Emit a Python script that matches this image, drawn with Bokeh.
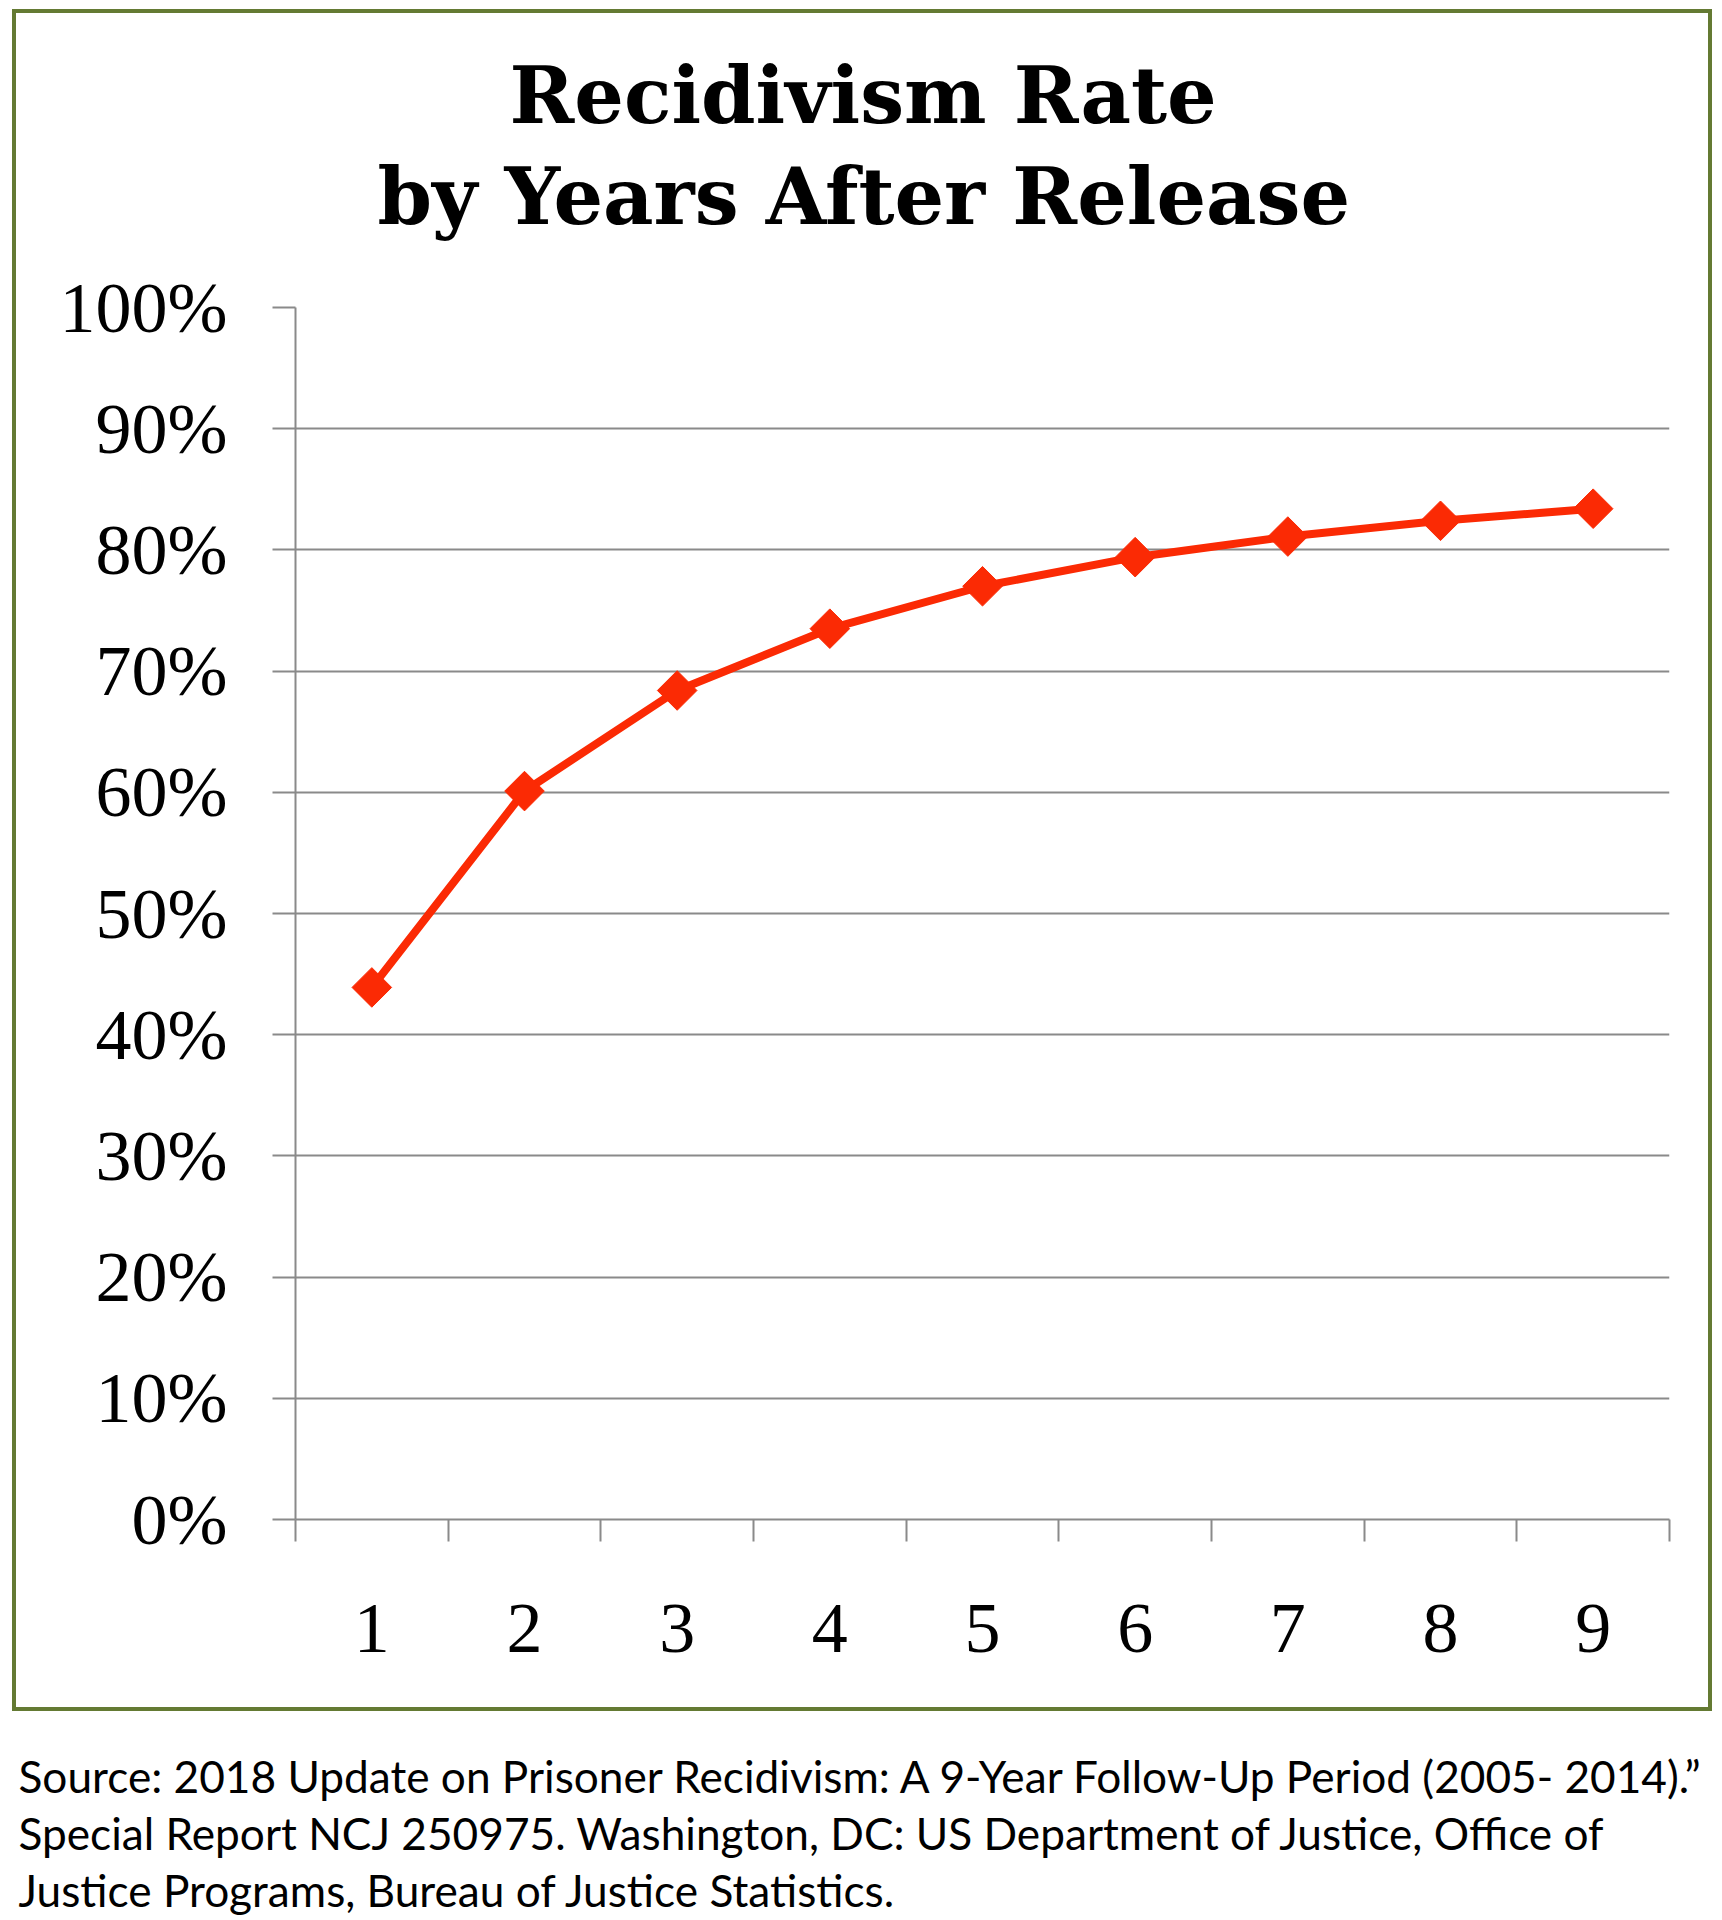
from bokeh.plotting import figure
from bokeh.models import Range1d, FixedTicker, Title, ColumnDataSource
from bokeh.layouts import column
from bokeh.embed import file_html
from bokeh.resources import INLINE
import math

# ---- data ----
years = [1, 2, 3, 4, 5, 6, 7, 8, 9]
year_labels = ["1", "2", "3", "4", "5", "6", "7", "8", "9"]
rates = [43.9, 60.1, 68.4, 73.5, 77.0, 79.4, 81.1, 82.4, 83.4]
y_ticks = [0, 10, 20, 30, 40, 50, 60, 70, 80, 90, 100]
y_tick_labels = [f"{t}%" for t in y_ticks]
title_lines = ["Recidivism Rate", "by Years After Release"]
footer_lines = [
    "Source: 2018 Update on Prisoner Recidivism: A 9-Year Follow-Up Period (2005- 2014).\u201d",
    "Special Report NCJ 250975. Washington, DC: US Department of Justice, Office of",
    "Justice Programs, Bureau of Justice Statistics.",
]

GRID = "#8a8a8a"
RED = "#fb2a04"
OLIVE = "#647a33"
SERIF = "Liberation Serif"

W, H = 1692, 1694
MB_LEFT, MB_RIGHT = 279, 47
p = figure(width=W, height=H, output_backend="svg", toolbar_location=None,
           x_range=Range1d(0.5, 9.5), y_range=Range1d(0, 100),
           min_border_left=MB_LEFT, min_border_right=MB_RIGHT,
           min_border_top=294, min_border_bottom=196)
p.styles = {"border": f"4px solid {OLIVE}", "box-sizing": "content-box"}
p.outline_line_color = None
p.background_fill_color = "white"
p.border_fill_color = "white"

# x axis
p.xaxis.ticker = FixedTicker(ticks=years, minor_ticks=[x + 0.5 for x in range(0, 10)])
p.xaxis.major_label_overrides = {y: l for y, l in zip(years, year_labels)}
p.xaxis.major_tick_out = 0
p.xaxis.major_tick_in = 0
p.xaxis.minor_tick_out = 22
p.xaxis.minor_tick_in = 0
p.xaxis.minor_tick_line_color = GRID
p.xaxis.minor_tick_line_width = 2
p.xaxis.axis_line_color = GRID
p.xaxis.axis_line_width = 2
p.xaxis.major_label_text_font = SERIF
p.xaxis.major_label_text_font_size = "72px"
p.xaxis.major_label_text_color = "black"
p.xaxis.major_label_standoff = 63

# y axis
p.yaxis.ticker = FixedTicker(ticks=y_ticks, minor_ticks=[])
p.yaxis.major_label_overrides = {t: l for t, l in zip(y_ticks, y_tick_labels)}
p.yaxis.major_tick_out = 23
p.yaxis.major_tick_in = 0
p.yaxis.major_tick_line_color = GRID
p.yaxis.major_tick_line_width = 2
p.yaxis.minor_tick_out = 0
p.yaxis.axis_line_color = GRID
p.yaxis.axis_line_width = 2
p.yaxis.major_label_text_font = SERIF
p.yaxis.major_label_text_font_size = "72px"
p.yaxis.major_label_text_color = "black"
p.yaxis.major_label_standoff = 45

p.xgrid.grid_line_color = None
p.ygrid.grid_line_color = GRID
p.ygrid.grid_line_width = 2

src = ColumnDataSource(dict(x=years, y=rates))
p.line("x", "y", source=src, line_color=RED, line_width=8)
p.scatter("x", "y", source=src, marker="square", size=28, angle=math.pi / 4,
          fill_color=RED, line_color=RED, line_width=1)

# title panels, stacked outward from the frame: spacer, line 2, line 1
p.add_layout(Title(text=" ", text_font="DejaVu Serif", text_font_size="20px",
                   standoff=36), "above")
for txt, off in zip(reversed(title_lines), [82, 214]):
    p.add_layout(Title(text=txt, align="left", offset=off,
                       text_font="DejaVu Serif", text_font_style="bold",
                       text_font_size="78px", text_color="black", standoff=8), "above")

# footer figure (same canvas origin and borders as the chart, so frames line up)
f = figure(width=W, height=209, output_backend="svg", toolbar_location=None,
           x_range=Range1d(0, 1), y_range=Range1d(0, 1),
           min_border_left=MB_LEFT, min_border_right=MB_RIGHT,
           min_border_top=205, min_border_bottom=0)
f.styles = {"margin-left": "4px"}
f.axis.visible = False
f.grid.visible = False
f.outline_line_color = None
f.background_fill_color = "white"
f.border_fill_color = "white"
for txt in reversed(footer_lines):
    f.add_layout(Title(text=txt, align="left", offset=-277,
                       text_font="Lato", text_font_size="44.2px", text_font_style="normal",
                       text_color="black", standoff=2), "above")

layout = column(p, f, spacing=0)
layout.styles = {"margin-left": "12px", "margin-top": "9px"}
open("out.html", "w").write(file_html(layout, INLINE))
